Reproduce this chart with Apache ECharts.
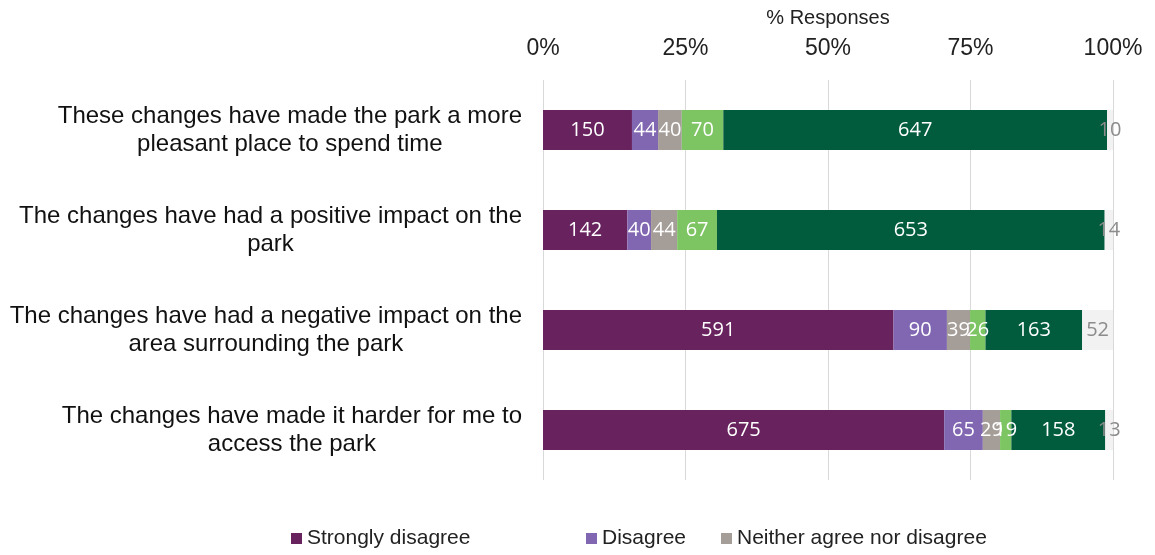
<!DOCTYPE html>
<html>
<head>
<meta charset="utf-8">
<script src="https://cdn.jsdelivr.net/npm/echarts@6/dist/echarts.min.js"></script>
<style>
  html, body { margin: 0; padding: 0; background: #fff; }
  #chart { width: 1155px; height: 555px; }
</style>
</head>
<body>
<div id="chart"></div>
<script>
// statements (top to bottom)
const categories = [
  "These changes have made the park a more\npleasant place to spend time",
  "The changes have had a positive impact on the\npark",
  "The changes have had a negative impact on the\narea surrounding the park",
  "The changes have made it harder for me to\naccess the park"
];
const seriesNames = ["Strongly disagree", "Disagree", "Neither agree nor disagree", "Agree", "Strongly agree", "Don't know"];
const colors = ["#68235f", "#8166b1", "#a59d98", "#7dc462", "#005c3c", "#f2f2f2"];
// response counts per statement
const stronglyDisagree = [150, 142, 591, 675];
const disagree = [44, 40, 90, 65];
const neither = [40, 44, 39, 29];
const agree = [70, 67, 26, 19];
const stronglyAgree = [647, 653, 163, 158];
const dontKnow = [10, 14, 52, 13];
const tickLabels = ["0%", "25%", "50%", "75%", "100%"];

const counts = [stronglyDisagree, disagree, neither, agree, stronglyAgree, dontKnow];
const totals = categories.map((c, i) => counts.reduce((s, arr) => s + arr[i], 0));

const font = '"Liberation Sans", Arial, sans-serif';
const chart = echarts.init(document.getElementById("chart"));

const series = counts.map((arr, k) => ({
  name: seriesNames[k],
  type: "bar",
  stack: "total",
  barWidth: 40,
  itemStyle: { color: colors[k] },
  label: {
    show: true,
    position: "inside",
    color: k === 5 ? "#8c8c8c" : "#ffffff",
    fontFamily: '"Open Sans", sans-serif',
    fontSize: 20,
    formatter: p => String(arr[p.dataIndex])
  },
  data: arr.map((v, i) => v / totals[i] * 100)
}));

const legendBase = {
  bottom: 1,
  itemWidth: 11,
  itemHeight: 11,
  itemGap: 0,
  icon: "rect",
  textStyle: { fontFamily: font, fontSize: 21, color: "#222" }
};

chart.setOption({
  animation: false,
  grid: { left: 543, right: 42, top: 80, bottom: 75, outerBoundsMode: "none", containLabel: false },
  legend: [
    Object.assign({ left: 286, data: [seriesNames[0]] }, legendBase),
    Object.assign({ left: 581, data: [seriesNames[1]] }, legendBase),
    Object.assign({ left: 716, data: [seriesNames[2]] }, legendBase)
  ],
  xAxis: {
    type: "value",
    position: "top",
    min: 0,
    max: 100,
    interval: 25,
    name: "% Responses",
    nameLocation: "middle",
    nameGap: 52,
    nameTextStyle: { fontFamily: font, fontSize: 20, color: "#222" },
    axisLine: { show: false },
    axisTick: { show: false },
    axisLabel: {
      margin: 20,
      fontFamily: font,
      fontSize: 23,
      color: "#222",
      formatter: v => tickLabels[Math.round(v / 25)]
    },
    splitLine: { show: true, lineStyle: { color: "#d9d9d9", width: 1 } }
  },
  yAxis: {
    type: "category",
    inverse: true,
    data: categories,
    axisLine: { show: false },
    axisTick: { show: false },
    axisLabel: {
      margin: 21,
      fontFamily: font,
      fontSize: 24,
      color: "#111",
      lineHeight: 28,
      formatter: v => v.split("\n").map(l => "{c|" + l + "}").join("\n"),
      rich: { c: { align: "center", fontFamily: font, fontSize: 24, color: "#111", lineHeight: 28 } }
    }
  },
  series: series
});
</script>
</body>
</html>
